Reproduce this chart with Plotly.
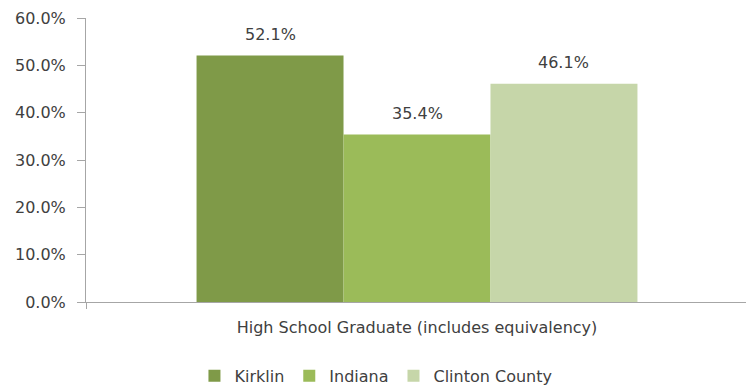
import plotly.graph_objects as go

categories = ["High School Graduate (includes equivalency)"]
series_names = ["Kirklin", "Indiana", "Clinton County"]
kirklin = [0.521]
indiana = [0.354]
clinton = [0.461]
colors = ["#7F9A48", "#9BBB59", "#C6D6A9"]

values = [kirklin, indiana, clinton]
font = dict(family="DejaVu Sans", size=16, color="#404040")
bargap = 0.334
n = len(series_names)

fig = go.Figure()
for i, (name, vals, col) in enumerate(zip(series_names, values, colors)):
    fig.add_trace(go.Bar(
        x=categories, y=vals, name=name,
        marker=dict(color=col, line=dict(width=0)),
    ))
    # data labels above each bar (offset within the category group)
    off = (i - (n - 1) / 2) * (1 - bargap) / n
    for ci, v in enumerate(vals):
        fig.add_annotation(x=ci + off, y=v, xref="x", yref="y",
                           text=f"{v*100:.1f}%", showarrow=False,
                           yanchor="middle", yshift=21, font=font)

# the page body adds an 8px offset, so the figure is sized to fit the window
fig.update_layout(
    width=746, height=377,
    margin=dict(l=78, r=6, t=10, b=83, autoexpand=False),
    paper_bgcolor="white", plot_bgcolor="white",
    barmode="group", bargap=bargap, bargroupgap=0,
    font=font,
    showlegend=True,
    legend=dict(orientation="h", x=0.438, xanchor="center", y=-0.26, yanchor="middle",
                font=font, itemwidth=30, traceorder="normal"),
    yaxis=dict(range=[0, 0.6], dtick=0.1, tickformat=".1%", showgrid=False,
               showline=True, linecolor="#A6A6A6", linewidth=1,
               ticks="outside", ticklen=8, tickcolor="#A6A6A6",
               tickfont=font, zeroline=False, automargin=False,
               ticklabelstandoff=8),
    xaxis=dict(showline=True, linecolor="#A6A6A6", linewidth=1,
               ticks="outside", tickson="boundaries", ticklen=6, tickcolor="#A6A6A6",
               tickfont=font, ticklabelstandoff=11, automargin=False,
               range=[-0.5, 0.5]),
)

fig.write_html("out.html")
